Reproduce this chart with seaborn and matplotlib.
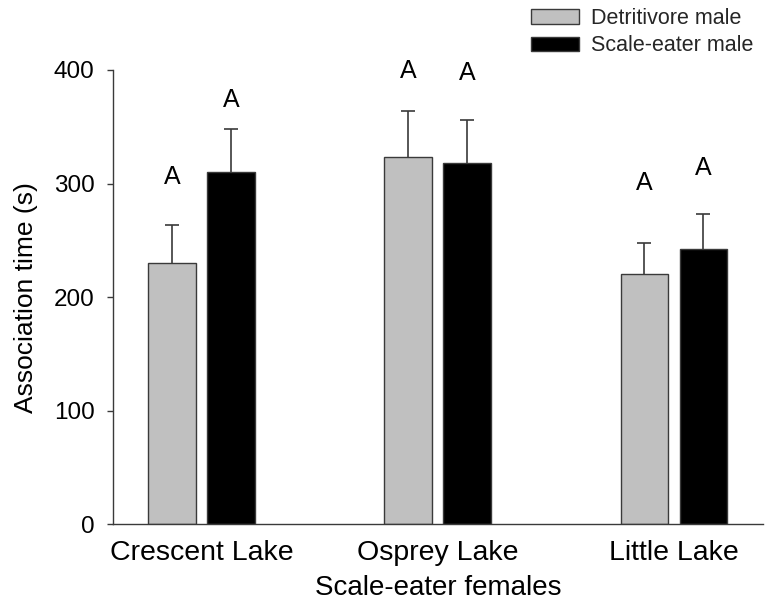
import matplotlib
matplotlib.use("Agg")
import matplotlib.pyplot as plt
import seaborn as sns
import pandas as pd

# Mean association time (s) and standard error for each lake / male type
lakes = ["Crescent Lake", "Osprey Lake", "Little Lake"]
male_types = ["Detritivore male", "Scale-eater male"]
detritivore_mean = [230.5, 323.0, 220.8]
detritivore_se = [32.6, 41.0, 26.8]
scale_eater_mean = [310.1, 318.3, 242.3]
scale_eater_se = [38.0, 38.0, 30.5]
letters = [["A", "A", "A"], ["A", "A", "A"]]
# heights (s) at which the significance letters are centred
letter_y = [[306, 398.8, 300.4], [373.8, 397.6, 313.6]]
y_ticks = [0, 100, 200, 300, 400]

df = pd.DataFrame({
    "lake": lakes * 2,
    "male": [male_types[0]] * 3 + [male_types[1]] * 3,
    "time": detritivore_mean + scale_eater_mean,
})
se = [detritivore_se, scale_eater_se]

sns.set_theme(style="white")
plt.rcParams["font.family"] = ["Liberation Sans", "DejaVu Sans"]
dark = "#3a3a3a"

fig = plt.figure(figsize=(7.67, 6.14), dpi=100)
ax = fig.add_axes([0.1473, 0.1461, 0.8475, 0.7399])

sns.barplot(data=df, x="lake", y="time", hue="male", order=lakes,
            hue_order=male_types, palette=["#c0c0c0", "#000000"],
            width=0.5, gap=0.19, edgecolor=dark, linewidth=1.0,
            errorbar=None, ax=ax)

bar_groups = list(ax.containers)

# upper error bars (cap on top only) and letters above each bar
for h, container in enumerate(bar_groups):
    for j, bar in enumerate(container.patches):
        xc = bar.get_x() + bar.get_width() / 2
        top = bar.get_height()
        _, caps, _ = ax.errorbar([xc], [top], yerr=[[0], [se[h][j]]],
                                 fmt="none", ecolor=dark, elinewidth=1.2,
                                 capsize=5, capthick=1.2, zorder=1)
        for cap in caps:
            if cap.get_ydata()[0] <= top:
                cap.set_visible(False)
        ax.text(xc, letter_y[h][j], letters[h][j], ha="center", va="center",
                fontsize=18, color="black", clip_on=False)

ax.set_xlim(-0.375, 2.377)
ax.set_ylim(0, 400)
ax.set_yticks(y_ticks)
ax.set_yticklabels([str(t) for t in y_ticks])

for side in ["top", "right"]:
    ax.spines[side].set_visible(False)
for side in ["left", "bottom"]:
    ax.spines[side].set_color(dark)
    ax.spines[side].set_linewidth(1.0)

ax.tick_params(axis="y", which="both", left=True, length=4.3, width=1.0,
               color=dark, direction="out", pad=9, labelsize=17.5,
               labelcolor="black")
ax.tick_params(axis="x", bottom=False, pad=5, labelsize=20.5,
               labelcolor="black")

ax.set_xlabel("Scale-eater females", fontsize=20, color="black", labelpad=7)
ax.set_ylabel("Association time (s)", fontsize=19, color="black",
              labelpad=11)

leg = ax.get_legend()
if leg is not None:
    leg.remove()
fig.legend(handles=[c.patches[0] for c in bar_groups],
           labels=male_types, loc="upper left",
           bbox_to_anchor=(531 / 767, 1 - 8 / 614),
           frameon=False, fontsize=15.5, handlelength=2.25,
           handleheight=0.65, handletextpad=0.55, labelspacing=0.3,
           borderpad=0, borderaxespad=0)

fig.savefig("out.png", dpi=100)
